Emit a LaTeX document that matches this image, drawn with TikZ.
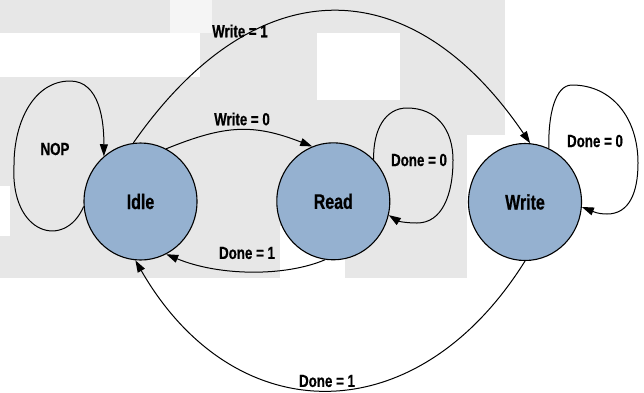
\documentclass[tikz,border=0pt]{standalone}
\usepackage{fontspec}
\newfontfamily\narrowsans{Liberation Sans}[FakeStretch=0.76,FakeBold=0.6]
\usetikzlibrary{arrows.meta,shapes.geometric}
\definecolor{statefill}{RGB}{149,177,208}
\definecolor{backdropgrey}{RGB}{231,231,231}
\begin{document}
\begin{tikzpicture}[x=1pt,y=-1pt,
  state/.style={ellipse, draw=black, line width=1.1pt, fill=statefill,
    minimum width=113pt, minimum height=117pt, inner sep=0pt,
    font=\narrowsans\bfseries\fontsize{21}{24}\selectfont},
  trans/.style={draw=black, line width=1pt, -{Triangle[length=12pt,width=8pt]}},
  cond/.style={inner sep=0pt, font=\narrowsans\bfseries\fontsize{17.5}{20}\selectfont}]
\useasboundingbox (0,0) rectangle (644,392);

% faint grey backdrop
\fill[backdropgrey] (0,0) rectangle (505,278);
\fill[white] (0,33) rectangle (200,77);
\fill[white!60!backdropgrey] (170,0) rectangle (212,33);
\fill[white] (317,33) rectangle (400,100);
\fill[white] (467,135) rectangle (505,278);
\fill[white] (0,186) rectangle (10,236);
\fill[white] (280,226) rectangle (345,278);

% states
\node[state] (idle)  at (140.5,201.5) {Idle};
\node[state] (read)  at (333.3,201.3) {Read};
\node[state] (write) at (525,202)     {Write};

% transitions
\draw[trans] (idle.97) .. controls +(123,-176) and +(-119,-175) .. (write.85);
\draw[trans] (idle.64) .. controls +(59,-24) and +(-59,-23) .. (read.111);
\draw[trans] (read.262) .. controls +(-40,17) and +(53,22) .. (idle.-64);
\draw[trans] (write.270) .. controls +(-108,173) and +(99,172) .. (idle.265);

% self loops
\draw[trans] (idle.185) .. controls (65,250) and (10,235) .. (14,165)
  .. controls (14,120) and (35,81) .. (70,81)
  .. controls (100,81) and (104,122) .. (idle.129);
\draw[trans] (read.46) .. controls (373,130) and (385,108) .. (407,108)
  .. controls (437,108) and (453,130) .. (453,160)
  .. controls (453,195) and (442,223) .. (417,223)
  .. controls (405,223) and (398,221) .. (read.-14);
\draw[trans] (write.66) .. controls (548,115) and (555,85) .. (572,85)
  .. controls (612,85) and (638,118) .. (638,163)
  .. controls (638,193) and (629,214) .. (607,214)
  .. controls (597,214) and (592,211) .. (write.-5);

% conditions
\node[cond] (c1) at (240,31)  {Write = 1};
\node[cond] (c2) at (242,119) {Write = 0};
\node[cond] (c3) at (55,149)  {NOP};
\node[cond] (c4) at (419,160) {Done = 0};
\node[cond] (c5) at (595,141) {Done = 0};
\node[cond] (c6) at (247,253) {Done = 1};
\node[cond] (c7) at (327,381) {Done = 1};
\end{tikzpicture}
\end{document}
